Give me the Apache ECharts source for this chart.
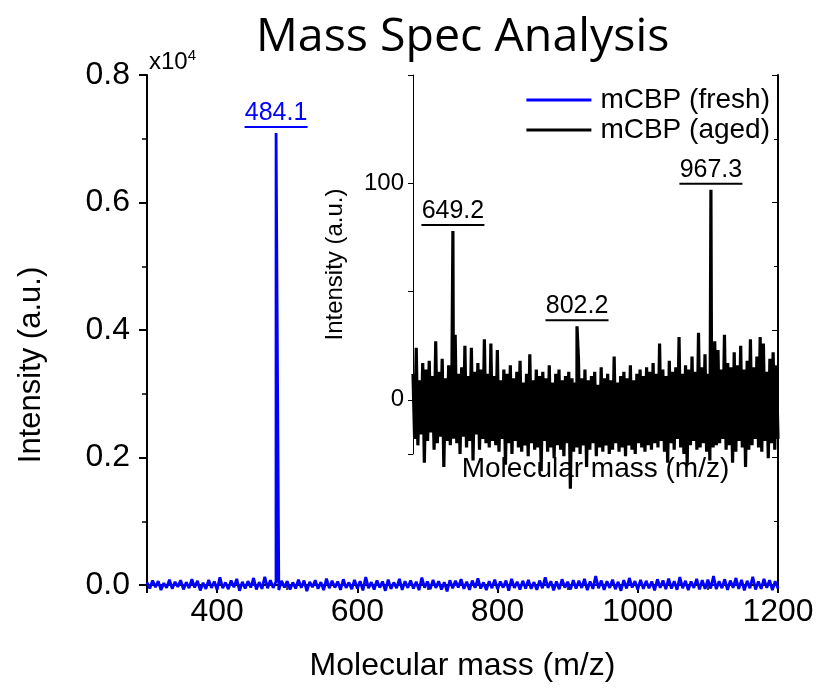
<!DOCTYPE html>
<html><head><meta charset="utf-8">
<script src="https://cdn.jsdelivr.net/npm/echarts@6/dist/echarts.min.js"></script>
<style>html,body{margin:0;padding:0;background:#fff}#c{width:817px;height:691px}</style>
</head><body><div id="c"></div>
<script>
// ---------- data ----------
const titleText = 'Mass Spec Analysis';
const seriesNames = ['mCBP (fresh)', 'mCBP (aged)'];
const xAxisName = 'Molecular mass (m/z)';
const yAxisName = 'Intensity (a.u.)';
const yScaleText = 'x10';
const yScaleExp = '4';

// main plot (fresh), intensity in counts, sampled every 4 m/z from 300 to 1200
const freshStart = 300;
const freshStep = 4;
const freshNoise = [
  40,-55,70,-35,60,-80,30,-45,85,-60,
  50,-30,75,-70,45,-50,90,-40,65,-85,
  35,-60,80,-45,55,-75,120,-50,40,-65,
  70,-35,95,-90,50,-55,60,-40,110,-70,
  45,-60,130,-50,75,-45,55,-80,65,-40,
  60,-70,40,-55,85,-45,70,-95,50,-35,
  75,-60,45,-80,100,-50,65,-40,55,-75,
  90,-45,40,-65,80,-55,60,-85,125,-50,
  45,-70,70,-40,55,-90,85,-60,40,-50,
  95,-75,60,-45,70,-55,50,-80,115,-40,
  55,-65,80,-45,60,-70,45,-100,75,-50,
  65,-40,90,-60,50,-75,70,-45,105,-55,
  40,-80,60,-50,85,-65,55,-40,70,-90,
  95,-45,50,-70,65,-55,80,-60,45,-75,
  70,-50,120,-45,60,-85,55,-65,90,-40,
  50,-70,75,-55,65,-45,95,-80,55,-60,
  140,-50,70,-75,60,-45,85,-65,50,-90,
  75,-55,110,-40,60,-70,80,-60,65,-50,
  55,-85,90,-45,70,-65,100,-55,60,-75,
  125,-50,65,-80,55,-45,95,-70,75,-60,
  85,-55,140,-65,60,-50,90,-75,70,-45,
  110,-60,80,-85,65,-50,130,-70,55,-60,
  95,-45,75,-80,60,-55
];
const freshPeakMz = [484.1];
const freshPeakIntensity = [7090];

// inset (aged), sampled every 2 m/z from 600 to 1050
const agedStart = 600;
const agedStep = 2;
const agedNoise = [
  12,-18,24,-21,9,-16,17,-29,14,-19,
  18,-15,11,-23,27,-20,13,-17,19,-31,
  10,-19,16,-21,14,-18,30,-20,12,-25,
  15,-17,25,-22,11,-19,24,-28,13,-16,
  17,-23,14,-18,28,-20,12,-22,26,-19,
  11,-21,23,-24,9,-18,14,-30,12,-20,
  16,-25,10,-19,13,-22,18,-24,8,-21,
  12,-26,21,-20,9,-23,14,-22,11,-33,
  13,-19,10,-24,16,-22,8,-27,12,-21,
  14,-23,9,-26,11,-20,13,-41,10,-24,
  8,-22,19,-25,10,-21,14,-31,9,-23,
  11,-20,13,-26,7,-22,15,-24,10,-21,
  12,-25,9,-23,20,-20,8,-24,11,-22,
  13,-26,10,-21,16,-23,9,-25,12,-20,
  14,-22,11,-24,15,-21,13,-23,17,-20,
  12,-22,26,-19,14,-24,11,-29,18,-20,
  13,-23,15,-18,29,-22,12,-25,16,-30,
  14,-21,20,-19,13,-23,31,-22,15,-20,
  21,-24,12,-28,18,-22,27,-21,23,-20,
  14,-18,30,-23,17,-21,15,-29,22,-24,
  16,-19,25,-22,14,-31,18,-23,28,-21,
  15,-18,20,-22,29,-24,26,-19,13,-27,
  19,-20,22,-23,16,-18
];
const agedPeakMz = [649.2, 802.2, 967.3];
const agedPeakIntensity = [78, 34, 97];

// axis ranges
const mainX = [300, 1200];
const mainY = [0, 8000];
const insetX = [600, 1050];
const insetY = [-25, 150];
const insetYLabels = [0, 100];

// ---------- build ----------
function buildSpectrum(start, step, noise, pMz, pVal) {
  const pts = noise.map((v, i) => [start + i * step, v]);
  pMz.forEach((m, k) => pts.push([m, pVal[k]]));
  pts.sort((a, b) => a[0] - b[0]);
  return pts;
}
const freshData = buildSpectrum(freshStart, freshStep, freshNoise, freshPeakMz, freshPeakIntensity);
const agedData = buildSpectrum(agedStart, agedStep, agedNoise, agedPeakMz, agedPeakIntensity);

const BLUE = '#0000ff';
const FONT = 'Liberation Sans';

function peakLabel(color) {
  return {
    show: true, position: 'top', distance: 4, opacity: 1, color: color,
    formatter: p => '{t|' + p.value[0].toFixed(1) + '}\n{u|}',
    rich: {
      t: { fontFamily: FONT, fontSize: 25, color: color, align: 'center', lineHeight: 25 },
      u: { width: 63, height: 2, backgroundColor: color, align: 'center', lineHeight: 3 }
    }
  };
}

const chart = echarts.init(document.getElementById('c'), null, { renderer: 'canvas' });
chart.setOption({
  backgroundColor: '#fff',
  animation: false,
  title: [
    { text: titleText, left: 256, top: 14, padding: 0,
      textStyle: { fontFamily: 'Open Sans', fontSize: 46.5, fontWeight: 'normal', color: '#000' } },
    { text: '{a|' + yScaleText + '}{b|' + yScaleExp + '}', left: 149, top: 48, padding: 0,
      textStyle: { fontWeight: 'normal', rich: {
        a: { fontFamily: FONT, fontSize: 24, fontWeight: 'normal', color: '#000', lineHeight: 26, verticalAlign: 'bottom' },
        b: { fontFamily: FONT, fontSize: 15, fontWeight: 'normal', color: '#000', lineHeight: 15, verticalAlign: 'top' }
      } } }
  ],
  legend: {
    data: seriesNames, orient: 'vertical', right: 47, top: 86, padding: 0,
    itemWidth: 65, itemHeight: 3, itemGap: 2, icon: 'rect',
    textStyle: { fontFamily: FONT, fontSize: 28, color: '#000', padding: [0, 0, 0, 4] }
  },
  grid: [
    { left: 147, right: 39, top: 75, bottom: 106, outerBoundsMode: 'none' },
    { left: 413, right: 39, top: 75, bottom: 237, outerBoundsMode: 'none' }
  ],
  xAxis: [
    { type: 'value', gridIndex: 0, min: mainX[0], max: mainX[1], splitNumber: 5,
      axisLine: { show: true, lineStyle: { color: '#000', width: 2 } },
      axisTick: { show: true, inside: false, length: 8, lineStyle: { color: '#000', width: 2 } },
      minorTick: { show: true, splitNumber: 2, length: 5, lineStyle: { color: '#000', width: 1.5 } },
      splitLine: { show: false },
      axisLabel: { fontFamily: FONT, fontSize: 32, color: '#000', margin: 11,
        formatter: v => (v % 200 === 0 ? String(v) : '') },
      name: xAxisName, nameLocation: 'middle', nameGap: 65,
      nameTextStyle: { fontFamily: FONT, fontSize: 32, color: '#000' } },
    { type: 'value', gridIndex: 0, position: 'top', min: mainX[0], max: mainX[1], splitNumber: 5,
      axisLine: { show: true, lineStyle: { color: '#000', width: 2 } },
      axisTick: { show: true, inside: true, length: 6, lineStyle: { color: '#000', width: 1 } },
      splitLine: { show: false }, axisLabel: { show: false } },
    { type: 'value', gridIndex: 1, min: insetX[0], max: insetX[1],
      axisLine: { show: false }, axisTick: { show: false }, axisLabel: { show: false },
      splitLine: { show: false },
      name: xAxisName, nameLocation: 'middle', nameGap: 1,
      nameTextStyle: { fontFamily: FONT, fontSize: 28, color: '#000' } }
  ],
  yAxis: [
    { type: 'value', gridIndex: 0, min: mainY[0], max: mainY[1], interval: 2000,
      axisLine: { show: true, lineStyle: { color: '#000', width: 2 } },
      axisTick: { show: true, inside: false, length: 8, lineStyle: { color: '#000', width: 2 } },
      minorTick: { show: true, splitNumber: 2, length: 5, lineStyle: { color: '#000', width: 1.5 } },
      splitLine: { show: false },
      axisLabel: { fontFamily: FONT, fontSize: 32, color: '#000', margin: 17,
        formatter: v => (v / 10000).toFixed(1) },
      name: yAxisName, nameLocation: 'middle', nameGap: 100, nameRotate: 90,
      nameTextStyle: { fontFamily: FONT, fontSize: 31, color: '#000', padding: [0, 70, 0, 0] } },
    { type: 'value', gridIndex: 0, position: 'right', min: mainY[0], max: mainY[1], interval: 2000,
      axisLine: { show: true, lineStyle: { color: '#000', width: 2 } },
      axisTick: { show: true, inside: true, length: 6, lineStyle: { color: '#000', width: 1 } },
      minorTick: { show: true, splitNumber: 2, length: 4, lineStyle: { color: '#000', width: 1 } },
      splitLine: { show: false }, axisLabel: { show: false } },
    { type: 'value', gridIndex: 1, min: insetY[0], max: insetY[1], splitNumber: 4,
      axisLine: { show: true, lineStyle: { color: '#000', width: 1 } },
      axisTick: { show: true, inside: false, length: 5, lineStyle: { color: '#000', width: 1 } },
      splitLine: { show: false },
      axisLabel: { fontFamily: FONT, fontSize: 24, color: '#000', margin: 9,
        formatter: v => (insetYLabels.indexOf(v) >= 0 ? String(v) : '') },
      name: yAxisName, nameLocation: 'middle', nameGap: 66, nameRotate: 90,
      nameTextStyle: { fontFamily: FONT, fontSize: 24, color: '#000' } }
  ],
  series: [
    { name: seriesNames[0], type: 'line', xAxisIndex: 0, yAxisIndex: 0, data: freshData,
      symbol: 'none', clip: false, z: 3,
      itemStyle: { color: BLUE }, lineStyle: { color: BLUE, width: 2.8 } },
    { name: seriesNames[1], type: 'line', xAxisIndex: 2, yAxisIndex: 2, data: agedData,
      symbol: 'none', clip: false, z: 3,
      itemStyle: { color: '#000' }, lineStyle: { color: '#000', width: 3.2 } },
    { name: 'freshPeaks', type: 'scatter', xAxisIndex: 0, yAxisIndex: 0, silent: true,
      data: freshPeakMz.map((m, k) => [m, freshPeakIntensity[k]]),
      symbolSize: 1, itemStyle: { color: 'rgba(0,0,0,0)', opacity: 1 }, label: peakLabel(BLUE), z: 4 },
    { name: 'agedPeaks', type: 'scatter', xAxisIndex: 2, yAxisIndex: 2, silent: true,
      data: agedPeakMz.map((m, k) => [m, agedPeakIntensity[k]]),
      symbolSize: 1, itemStyle: { color: 'rgba(0,0,0,0)', opacity: 1 }, label: peakLabel('#000'), z: 4 }
  ]
});
</script></body></html>
